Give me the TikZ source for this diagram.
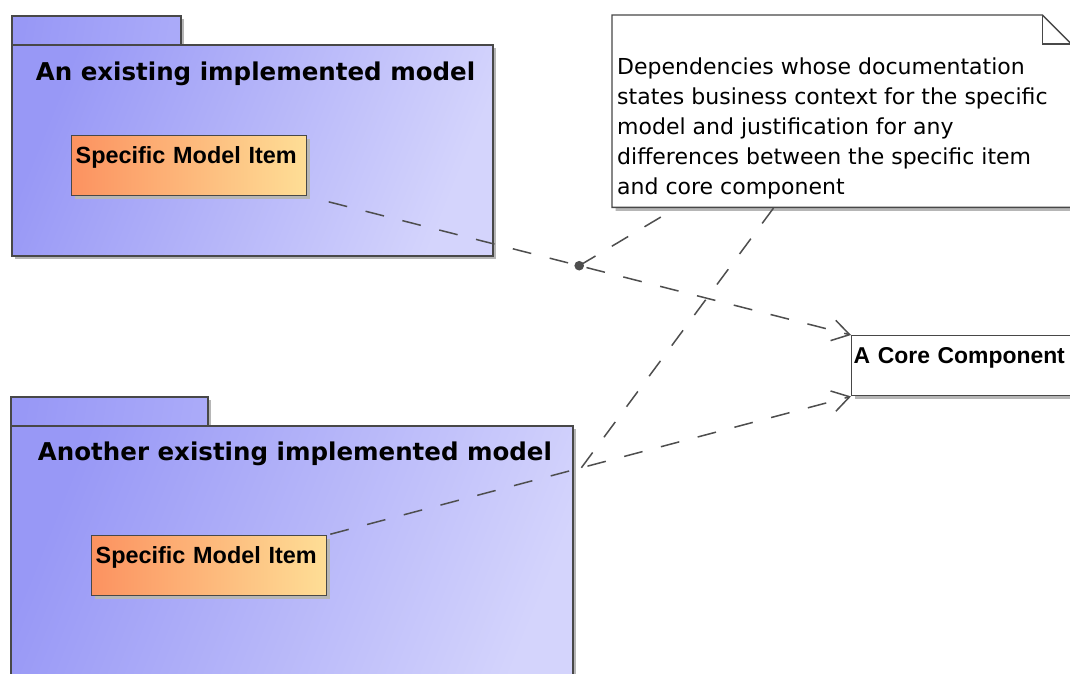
\documentclass[tikz,border=0pt]{standalone}
\usepackage{fontspec}
\setmainfont{DejaVu Sans}
\newfontfamily\titlefont{DejaVu Sans}
\newfontfamily\itemfont{Liberation Sans}
\usetikzlibrary{arrows.meta,calc,shadows}

\definecolor{pkgdark}{RGB}{152,152,246}
\definecolor{pkglight}{RGB}{212,212,252}
\definecolor{pkgtab}{RGB}{170,170,249}
\definecolor{itemdark}{RGB}{252,146,96}
\definecolor{itemlight}{RGB}{254,222,150}
\definecolor{edge}{RGB}{72,72,72}
\definecolor{shadowgray}{RGB}{182,182,182}
\definecolor{linkgray}{RGB}{78,78,78}

\tikzset{
  boxshadow/.style={drop shadow={shadow xshift=3.5pt, shadow yshift=-3.5pt,
      fill=shadowgray, opacity=1}},
  pkgbody/.style={rectangle, draw=edge, line width=1.6pt, inner sep=0pt,
      anchor=north west, left color=pkgdark, right color=pkglight,
      shading angle=68, boxshadow},
  pkgtabbox/.style={rectangle, draw=edge, line width=1.6pt, inner sep=0pt,
      anchor=north west, left color=pkgdark, right color=pkgtab,
      shading angle=80, boxshadow},
  pkgtitle/.style={anchor=base, inner sep=0pt,
      font=\titlefont\bfseries\fontsize{24.5}{28}\selectfont},
  itembox/.style={rectangle, draw=edge, line width=1.4pt, anchor=north west,
      inner xsep=4pt, inner ysep=0pt, text height=28pt, text depth=32pt,
      text width=227pt, align=left, left color=itemdark, right color=itemlight,
      shading angle=90, boxshadow,
      font=\itemfont\bfseries\fontsize{23.4}{26}\selectfont},
  corebox/.style={rectangle, draw=edge, line width=1.4pt, anchor=north west,
      inner xsep=2pt, inner ysep=0pt, text height=28pt, text depth=32pt,
      text width=222pt, align=left, fill=white, boxshadow,
      font=\itemfont\bfseries\fontsize{22.9}{26}\selectfont},
  notearea/.style={rectangle, inner sep=0pt, anchor=north west},
  noteline/.style={draw=edge, line width=1.4pt, fill=white, boxshadow},
  notetext/.style={anchor=north west, inner sep=0pt, align=left,
      font=\fontsize{22}{30}\selectfont},
  dependency/.style={draw=linkgray, line width=1.5pt,
      dash pattern=on 19pt off 19pt,
      -{Straight Barb[length=17pt,width=21pt,line width=1.5pt]}},
  anchorlink/.style={draw=linkgray, line width=1.5pt,
      dash pattern=on 19pt off 19pt},
}

\begin{document}
\begin{tikzpicture}[x=1pt,y=-1pt]
\useasboundingbox (0,0) rectangle (1070,673);
\fill[white] (0,0) rectangle (1070,673);
\clip (0,0) rectangle (1070,673);

% first package with its tab
\node[pkgtabbox, minimum width=169pt, minimum height=29pt] (tabA) at (11,15) {};
\node[pkgbody, minimum width=481pt, minimum height=211pt] (pkgA) at (11,44) {};
\node[pkgtitle] (titleA) at (255.5,80) {An existing implemented model};
\node[itembox] (itemA) at (71,135) {Specific Model Item};

% second package with its tab (runs past the lower edge)
\node[pkgtabbox, minimum width=197pt, minimum height=29pt] (tabB) at (10,396) {};
\node[pkgbody, minimum width=562pt, minimum height=290pt] (pkgB) at (10,425) {};
\node[pkgtitle] (titleB) at (295,460) {Another existing implemented model};
\node[itembox] (itemB) at (91,535) {Specific Model Item};

% core component
\node[corebox] (core) at (851,335) {A Core Component};

% note with folded corner
\node[notearea, minimum width=459pt, minimum height=192pt] (note) at (612,15) {};
\draw[noteline] (note.north west) -- ($(note.north east)+(-29,0)$)
  -- ($(note.north east)+(0,29)$) -- (note.south east) -- (note.south west) -- cycle;
\draw[edge, line width=1.4pt] ($(note.north east)+(-29,0)$) |- ($(note.north east)+(0,29)$);
\node[notetext] (notetxt) at ($(note.north west)+(5,42.5)$)
  {Dependencies whose documentation\\
   states business context for the specific\\
   model and justification for any\\
   differences between the specific item\\
   and core component};

% dependencies
\draw[dependency, shorten <=22pt] (itemA.south east) -- (core.north west);
\draw[dependency, shorten <=3pt] (itemB.north east) -- (core.south west);

% note anchors
\coordinate (jA) at ($(itemA.south east)!0.5!(core.north west)$);
\coordinate (jB) at ($(itemB.north east)!0.485!(core.south west)$);
\fill[linkgray] (jA) circle (4.8pt);
\draw[anchorlink] (jA) -- ($(note.south west)+(65,0)$);
\draw[anchorlink] (jB) -- ($(note.south west)+(162,0)$);
\end{tikzpicture}
\end{document}
